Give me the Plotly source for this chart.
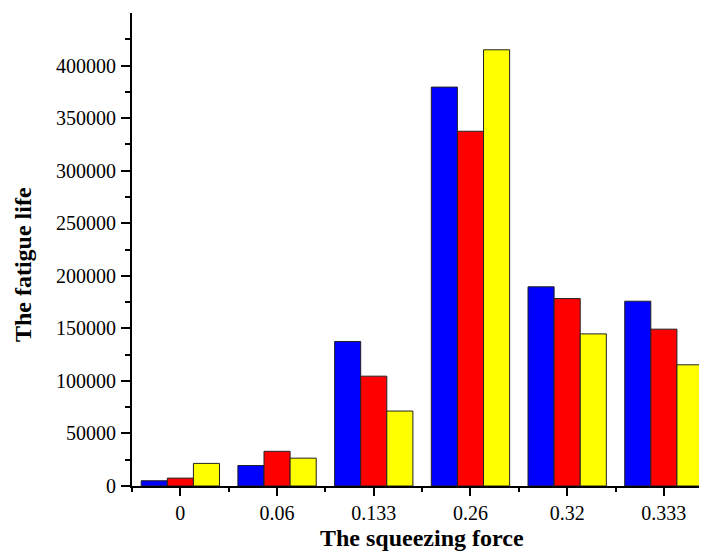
import plotly.graph_objects as go

categories = ["0", "0.06", "0.133", "0.26", "0.32", "0.333"]
series1 = [5000, 19500, 137500, 379500, 189500, 175800]
series2 = [7500, 33000, 104500, 337500, 178300, 149200]
series3 = [21500, 26500, 71300, 415000, 144700, 115300]
colors = ["#0000FF", "#FF0000", "#FFFF00"]
yticks = [0, 50000, 100000, 150000, 200000, 250000, 300000, 350000, 400000]

xpos = list(range(len(categories)))
fig = go.Figure()
for vals, c in zip([series1, series2, series3], colors):
    fig.add_trace(go.Bar(x=xpos, y=vals, marker=dict(color=c, line=dict(color="#222222", width=1)),
                         showlegend=False))

font = "Liberation Serif, Times New Roman, serif"
fig.update_layout(
    width=699, height=545,
    margin=dict(l=124, r=0, t=5, b=67),
    plot_bgcolor="white", paper_bgcolor="white",
    barmode="group", bargap=0.19, bargroupgap=0,
    font=dict(family=font, size=20, color="black"),
    annotations=[
        dict(text="<b>The fatigue life</b>", textangle=-90, showarrow=False,
             xref="paper", yref="paper", x=0, y=0.467, xanchor="center", yanchor="middle",
             xshift=-109, font=dict(size=24, family=font)),
        dict(text="<b>The squeezing force</b>", showarrow=False,
             xref="paper", yref="paper", x=0.5, y=0, xanchor="center", yanchor="middle",
             xshift=2, yshift=-52, font=dict(size=24, family=font)),
    ],
)
fig.update_xaxes(
    range=[-0.5, 5.446], tickmode="array", tickvals=xpos, ticktext=categories,
    showline=True, linecolor="black", linewidth=2, showgrid=False, zeroline=False,
    ticks="outside", ticklen=8, tickwidth=2, tickcolor="black", automargin=False,
    minor=dict(tickmode="linear", tick0=0.5, dtick=1, ticks="outside", ticklen=4, tickwidth=2, tickcolor="black"),
    tickfont=dict(size=20, family=font),
)
fig.update_yaxes(
    range=[0, 450000], tickmode="array", tickvals=yticks, ticktext=[str(v) for v in yticks],
    showline=True, linecolor="black", linewidth=2, showgrid=False, zeroline=False,
    ticks="outside", ticklen=9, tickwidth=2, tickcolor="black", ticklabelstandoff=1, automargin=False,
    minor=dict(tickmode="linear", tick0=25000, dtick=50000, ticks="outside", ticklen=5, tickwidth=2, tickcolor="black"),
    tickfont=dict(size=20, family=font),
)
fig.write_html("out.html")
